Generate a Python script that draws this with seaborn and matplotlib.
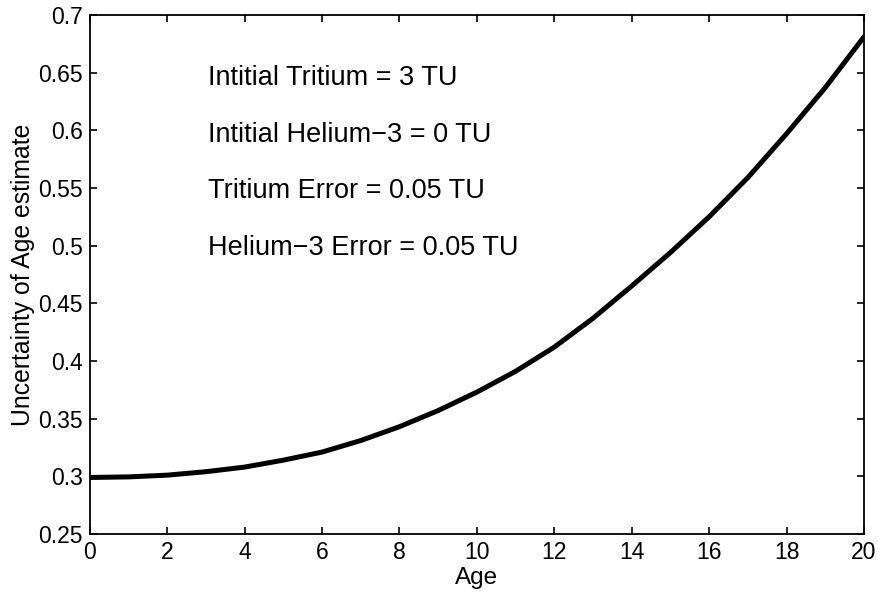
import numpy as np
import pandas as pd
import matplotlib
matplotlib.use('Agg')
import matplotlib.pyplot as plt
import seaborn as sns

# values
age = [0, 1, 2, 3, 4, 5, 6, 7, 8, 9, 10, 11, 12, 13, 14, 15, 16, 17, 18, 19, 20]
uncertainty = [0.299, 0.2995, 0.301, 0.304, 0.308, 0.314, 0.321, 0.331, 0.343, 0.357,
               0.373, 0.391, 0.412, 0.437, 0.465, 0.494, 0.525, 0.559, 0.597, 0.637, 0.681]

notes = ['Intitial Tritium = 3 TU',
         'Intitial Helium\u22123 = 0 TU',
         'Tritium Error = 0.05 TU',
         'Helium\u22123 Error = 0.05 TU']

sns.set_style('ticks', {'xtick.direction': 'in', 'ytick.direction': 'in'})
plt.rcParams['font.family'] = ['Liberation Sans', 'DejaVu Sans']
plt.rcParams.update({'text.color': 'black', 'axes.labelcolor': 'black',
                     'xtick.color': 'black', 'ytick.color': 'black'})

df = pd.DataFrame({'Age': age, 'Uncertainty': uncertainty})

fig, ax = plt.subplots(figsize=(8.79, 5.94), dpi=100)
fig.subplots_adjust(left=0.102, right=0.983, top=0.975, bottom=0.101)

sns.lineplot(data=df, x='Age', y='Uncertainty', color='black', linewidth=3.6, ax=ax)

# annotation block, one line every ~0.049 in y
for i, txt in enumerate(notes):
    ax.text(3.05, 0.639 - 0.049 * i, txt, fontsize=19.5, va='baseline', ha='left')

ax.set_xlim(0, 20)
ax.set_ylim(0.25, 0.7)
ax.set_xticks(np.arange(0, 21, 2))
ax.set_yticks(np.arange(0.25, 0.701, 0.05))
ax.set_yticklabels(['0.25', '0.3', '0.35', '0.4', '0.45', '0.5', '0.55', '0.6', '0.65', '0.7'])
ax.tick_params(axis='both', which='both', direction='in', top=True, right=True,
               labelsize=16.5, length=5, width=1.2, pad=5)
for s in ax.spines.values():
    s.set_linewidth(1.3)
    s.set_color('black')
ax.set_xlabel('Age', fontsize=17.5, labelpad=2)
ax.set_ylabel('Uncertainty of Age estimate', fontsize=17.8, labelpad=2)

fig.savefig('out.png', dpi=100, facecolor='white')
